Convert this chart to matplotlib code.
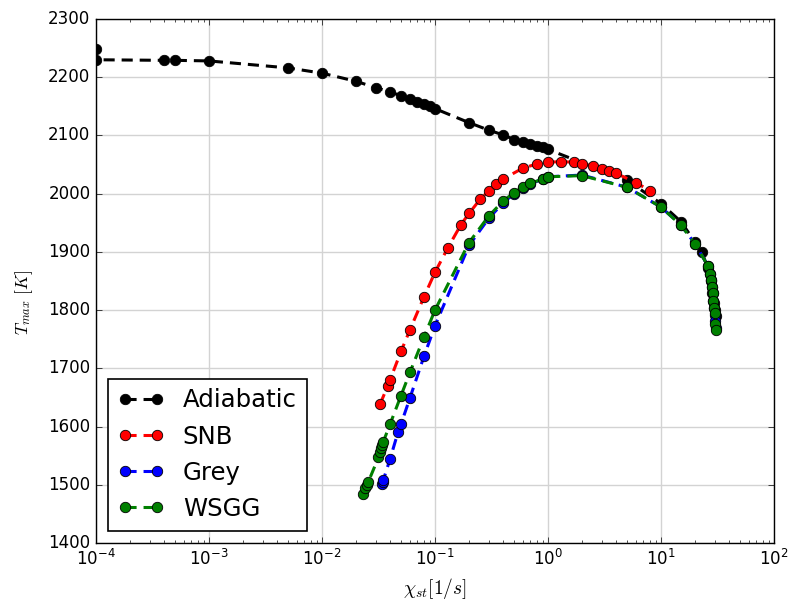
import matplotlib
matplotlib.use("Agg")
import matplotlib.pyplot as plt

plt.style.use('classic')
plt.rcParams['lines.scale_dashes'] = False
plt.rcParams['figure.facecolor'] = 'white'
plt.rcParams['savefig.facecolor'] = 'white'

# Adiabatic
adi_x = [1e-4, 1e-4, 4e-4, 5e-4, 1e-3, 5e-3, 1e-2, 2e-2, 3e-2, 4e-2, 5e-2, 6e-2, 7e-2, 8e-2, 9e-2, 0.1,
         0.2, 0.3, 0.4, 0.5, 0.6, 0.7, 0.8, 0.9, 1.0, 5.0, 10.0, 15.0, 20.0, 23.0,
         26.0, 27.5, 28.5, 29.5, 30.2, 30.6]
adi_T = [2248, 2230, 2229, 2229, 2228, 2216, 2207, 2193, 2182, 2175, 2168, 2163, 2158, 2154, 2150, 2146,
         2122, 2109, 2101, 2093, 2089, 2086, 2082, 2080, 2076, 2023, 1983, 1952, 1917, 1899,
         1872, 1850, 1830, 1812, 1800, 1790]

# SNB
snb_x = [0.0326, 0.038, 0.04, 0.05, 0.06, 0.08, 0.1, 0.13, 0.17, 0.2, 0.25, 0.3, 0.35, 0.4,
         0.6, 0.8, 1.0, 1.3, 1.7, 2.0, 2.5, 3.0, 3.5, 4.0, 6.0, 8.0]
snb_T = [1638, 1669, 1680, 1729, 1766, 1823, 1865, 1907, 1947, 1966, 1990, 2005, 2016, 2025,
         2044, 2051, 2054, 2055, 2054, 2051, 2048, 2043, 2039, 2035, 2019, 2005]

# Grey
grey_x = [0.034, 0.0345, 0.035, 0.04, 0.047, 0.05, 0.06, 0.08, 0.1,
          0.2, 0.3, 0.4, 0.5, 0.6, 0.7, 0.9, 1.0, 2.0, 5.0, 10.0, 15.0, 20.0,
          26.2, 27.2, 27.7, 28.3, 28.8, 29.0, 29.6, 30.1, 30.3, 30.5]
grey_T = [1501, 1505, 1509, 1544, 1590, 1604, 1649, 1721, 1773,
          1911, 1958, 1984, 2000, 2010, 2017, 2025, 2029, 2032, 2011, 1977, 1946, 1914,
          1875, 1862, 1851, 1840, 1829, 1815, 1803, 1792, 1782, 1770]

# WSGG
wsgg_x = [0.0232, 0.0241, 0.0249, 0.0257, 0.0316, 0.0323, 0.0331, 0.0338, 0.0349,
          0.04, 0.05, 0.06, 0.08, 0.1, 0.2, 0.3, 0.4, 0.5, 0.6, 0.7, 0.9, 1.0,
          2.0, 5.0, 10.0, 15.0, 20.0,
          26.2, 27.2, 27.7, 28.3, 28.8, 29.0, 29.6, 30.1, 30.3, 30.5]
wsgg_T = [1485, 1494, 1500, 1505, 1547, 1557, 1563, 1568, 1574,
          1604, 1653, 1693, 1754, 1800, 1916, 1962, 1987, 2002, 2011, 2018, 2025, 2029,
          2031, 2011, 1977, 1946, 1914,
          1875, 1862, 1851, 1840, 1829, 1815, 1803, 1795, 1777, 1766]

series = [
    ("Adiabatic", adi_x, adi_T, "k"),
    ("SNB", snb_x, snb_T, "r"),
    ("Grey", grey_x, grey_T, "b"),
    ("WSGG", wsgg_x, wsgg_T, "g"),
]

fig = plt.figure(figsize=(7.94, 6.03), dpi=100)
ax = fig.add_axes([96/794, 1-543/603, (774-96)/794, (543-19)/603])

for name, xs, ts, c in series:
    ax.plot(xs, ts, linestyle='--', dashes=(8, 5), color=c, lw=2.2,
            marker='o', markersize=7.5, markerfacecolor=c, markeredgecolor='k',
            markeredgewidth=0.6, label=name)

ax.set_xscale('log')
ax.set_xlim(1e-4, 1e2)
ax.set_ylim(1400, 2300)
ax.grid(True, which='major', color='#d3d3d3', linestyle='-', linewidth=1)
ax.set_axisbelow(True)
ax.set_xlabel(r'$\chi_{st} [1/s]$', fontsize=14)
ax.set_ylabel(r'$T_{max}$ $[K]$', fontsize=12.5)
ax.yaxis.set_label_coords(-0.09, 0.46)
ax.tick_params(labelsize=12)

leg = ax.legend(loc='lower left', numpoints=2, fontsize=17.6, fancybox=False,
                handlelength=1.9, handletextpad=0.75, borderaxespad=0.5, frameon=True)
leg.get_frame().set_edgecolor('k')
leg.get_frame().set_linewidth(1.2)

fig.savefig('out.png', dpi=100)
